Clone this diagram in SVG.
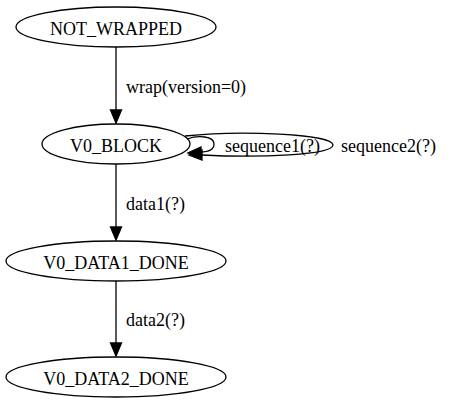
<svg xmlns="http://www.w3.org/2000/svg" width="476" height="407" viewBox="0 0 476 407">
<style>
.n ellipse{fill:none;stroke:#000;stroke-width:1.3}
text{font-family:"Liberation Serif","Times New Roman",serif;font-size:18px;fill:#000}
.n text{text-anchor:middle}
.e path{fill:none;stroke:#000;stroke-width:1.3}
.e polygon{fill:#000;stroke:#000;stroke-width:1.3}
</style>
<rect width="476" height="407" fill="#fff"/>
<g id="NOT_WRAPPED" class="n"><ellipse cx="116" cy="27" rx="100" ry="20"/><text x="116" y="35">NOT_WRAPPED</text></g>
<g id="V0_BLOCK" class="n"><ellipse cx="116" cy="144" rx="74" ry="20"/><text x="116" y="152">V0_BLOCK</text></g>
<g id="V0_DATA1_DONE" class="n"><ellipse cx="116" cy="261" rx="110" ry="20"/><text x="116" y="269">V0_DATA1_DONE</text></g>
<g id="V0_DATA2_DONE" class="n"><ellipse cx="116" cy="377" rx="110" ry="20"/><text x="116" y="385">V0_DATA2_DONE</text></g>
<g id="edges" class="e">
<path d="M116,47 V110"/><polygon points="110.5,110 121.5,110 116,123"/>
<text x="126" y="93">wrap(version=0)</text>
<path d="M116,164 V227"/><polygon points="110.5,227 121.5,227 116,240"/>
<text x="126" y="210">data1(?)</text>
<path d="M116,281 V343"/><polygon points="110.5,343 121.5,343 116,356"/>
<text x="126" y="326">data2(?)</text>
<path d="M187,139 C198,135 214,136 214,144 C214,150 207,152 200,152"/>
<polygon points="201,147 201,157 188,153"/>
<text x="225" y="152">sequence1(?)</text>
<path d="M185,136 C240,130 333,134 333,145 C333,155 260,158 202,155"/>
<polygon points="202,150 202,160 189,155"/>
<text x="341" y="152">sequence2(?)</text>
</g>
</svg>
